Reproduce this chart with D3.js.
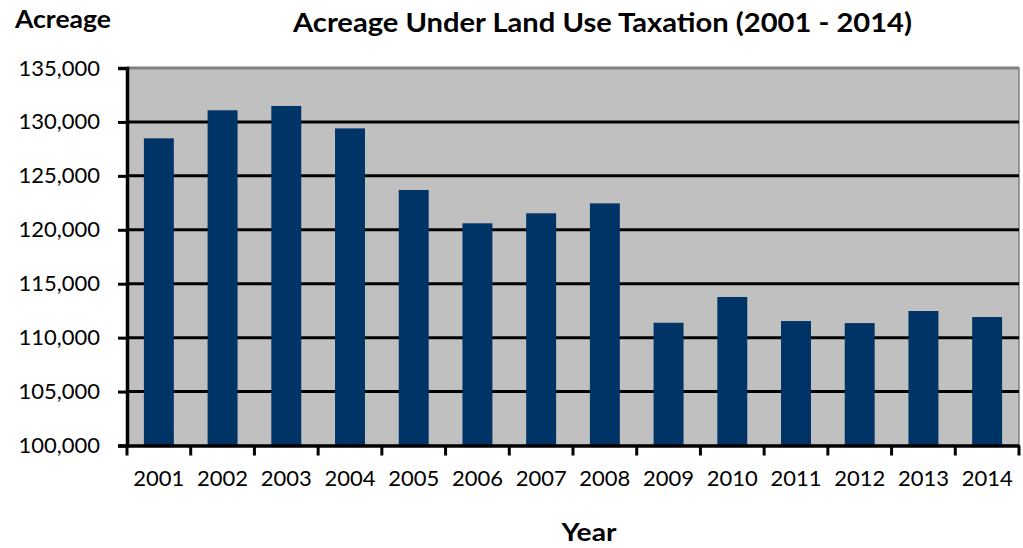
<!DOCTYPE html>
<html><head><meta charset="utf-8">
<script src="https://cdn.jsdelivr.net/npm/d3@7"></script>
<style>body{margin:0;background:#fff;}svg{display:block;}</style>
</head><body>
<svg id="c" width="1023" height="548"></svg>
<script>
const years = ["2001","2002","2003","2004","2005","2006","2007","2008","2009","2010","2011","2012","2013","2014"];
const acreage = [128480,131080,131480,129400,123690,120600,121530,122450,111380,113770,111540,111350,112470,111910];
const yTicks = [100000,105000,110000,115000,120000,125000,130000,135000];

const svg = d3.select("#c");
const L = 127, R = 1019, T = 68, B = 445.5;
const font = "Lato, 'Open Sans', sans-serif";

const x = d3.scaleBand().domain(years).range([L, R]).paddingInner(0.53).paddingOuter(0.265);
const xt = d3.scaleBand().domain(years).range([L, R]);
const y = d3.scaleLinear().domain([100000, 135000]).range([B, T]);

// plot background
svg.append("rect").attr("x", L).attr("y", T).attr("width", R - L).attr("height", B - T)
  .attr("fill", "#c0c0c0").attr("stroke", "#808080").attr("stroke-width", 1.5);

// gridlines
svg.append("g").selectAll("line").data(yTicks.filter(d => d > 100000)).join("line")
  .attr("x1", L).attr("x2", R).attr("y1", d => y(d)).attr("y2", d => y(d))
  .attr("stroke", d => d === 135000 ? "#808080" : "#000").attr("stroke-width", 3);

// bars
svg.append("g").selectAll("rect").data(years).join("rect")
  .attr("x", d => x(d)).attr("width", x.bandwidth())
  .attr("y", (d, i) => y(acreage[i])).attr("height", (d, i) => B - y(acreage[i]))
  .attr("fill", "#003366");

// y axis
const ya = svg.append("g").attr("transform", `translate(${L},0)`)
  .call(d3.axisLeft(y).tickValues(yTicks).tickFormat(d3.format(",")).tickSize(9).tickPadding(18));
ya.select(".domain").attr("stroke", "#000").attr("stroke-width", 3.5);
ya.selectAll(".tick line").attr("stroke", "#000").attr("stroke-width", 3);
ya.selectAll("text").attr("font-family", font).attr("font-size", 22).attr("fill", "#000");

// x axis
const xa = svg.append("g").attr("transform", `translate(0,${B})`)
  .call(d3.axisBottom(xt).tickSize(0).tickPadding(25));
xa.select(".domain").attr("stroke", "#000").attr("stroke-width", 3.5);
xa.selectAll("text").attr("font-family", font).attr("font-size", 22).attr("fill", "#000");
// tick marks at band boundaries
svg.append("g").selectAll("line").data(years.concat(["end"])).join("line")
  .attr("x1", (d, i) => L + i * xt.step()).attr("x2", (d, i) => L + i * xt.step())
  .attr("y1", B).attr("y2", B + 10).attr("stroke", "#000").attr("stroke-width", 3);

// titles
svg.append("text").attr("x", 602.5).attr("y", 32).attr("text-anchor", "middle")
  .attr("font-family", font).attr("font-weight", "bold").attr("font-size", 27)
  .attr("textLength", 619).attr("lengthAdjust", "spacingAndGlyphs")
  .text("Acreage Under Land Use Taxation (2001 - 2014)");
svg.append("text").attr("x", 15).attr("y", 28)
  .attr("font-family", font).attr("font-weight", "bold").attr("font-size", 24)
  .attr("textLength", 96).attr("lengthAdjust", "spacingAndGlyphs")
  .text("Acreage");
svg.append("text").attr("x", 589).attr("y", 541).attr("text-anchor", "middle")
  .attr("font-family", font).attr("font-weight", "bold").attr("font-size", 24)
  .attr("textLength", 55).attr("lengthAdjust", "spacingAndGlyphs")
  .text("Year");
</script>
</body></html>
